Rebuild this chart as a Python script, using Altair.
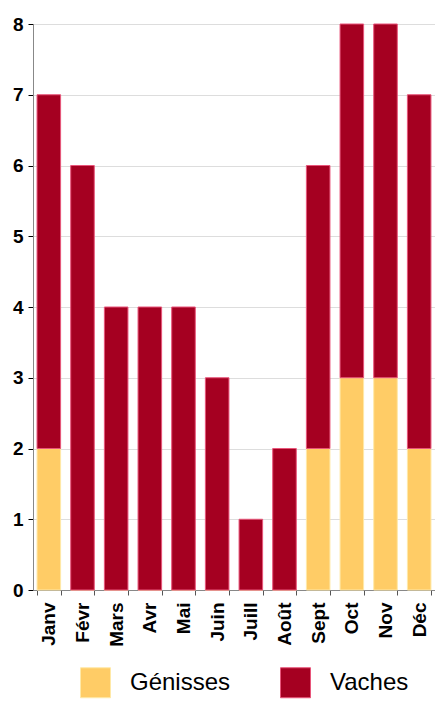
import altair as alt
import pandas as pd

months = ["Janv", "Févr", "Mars", "Avr", "Mai", "Juin", "Juill", "Août", "Sept", "Oct", "Nov", "Déc"]
genisses = [2, 0, 0, 0, 0, 0, 0, 0, 2, 3, 3, 2]
vaches = [5, 6, 4, 4, 4, 3, 1, 2, 4, 5, 5, 5]
series = ["Génisses", "Vaches"]
colors = ["#FFCC66", "#A50021"]
edge_colors = ["#FFE9A8", "#E8557A"]

rows = []
for m, g, v in zip(months, genisses, vaches):
    rows.append({"mois": m, "type": series[0], "n": g})
    rows.append({"mois": m, "type": series[1], "n": v})
df = pd.DataFrame(rows)

FONT = "Liberation Sans"

chart = alt.Chart(df).mark_bar(strokeWidth=1).encode(
    x=alt.X("mois:N", sort=months, title=None,
            scale=alt.Scale(paddingInner=0.3, paddingOuter=0.12),
            axis=alt.Axis(labelAngle=-90, labelFont=FONT, labelFontSize=19,
                          labelFontWeight="bold", labelColor="black",
                          tickBand="extent", tickSize=5, tickColor="#555",
                          domainColor="#888", labelPadding=7)),
    y=alt.Y("n:Q", stack="zero", title=None,
            scale=alt.Scale(domain=[0, 8], nice=False),
            axis=alt.Axis(values=list(range(0, 9)), labelFont=FONT, labelFontSize=19,
                          labelFontWeight="bold", labelColor="black",
                          tickSize=5, tickColor="black", domainColor="#888",
                          gridColor="#DDDDDD", labelPadding=5)),
    color=alt.Color("type:N", scale=alt.Scale(domain=series, range=colors),
                    legend=alt.Legend(title=None, orient="none", direction="horizontal",
                                      legendX=47, legendY=643, symbolType="square",
                                      symbolSize=900, symbolStrokeColor="black",
                                      symbolStrokeWidth=1, symbolOpacity=1,
                                      labelFont=FONT, labelFontSize=24,
                                      labelColor="black", labelOffset=19,
                                      columnPadding=47)),
    stroke=alt.Stroke("type:N", scale=alt.Scale(domain=series, range=edge_colors),
                      legend=None),
    order=alt.Order("type:N", sort="ascending"),
).properties(
    width=402, height=566,
    autosize=alt.AutoSizeParams(type="none"),
    padding={"left": 25, "top": 16, "right": 0, "bottom": 111},
).configure_view(stroke=None)

chart.save("out.html", embed_options={"renderer": "svg", "actions": False})
